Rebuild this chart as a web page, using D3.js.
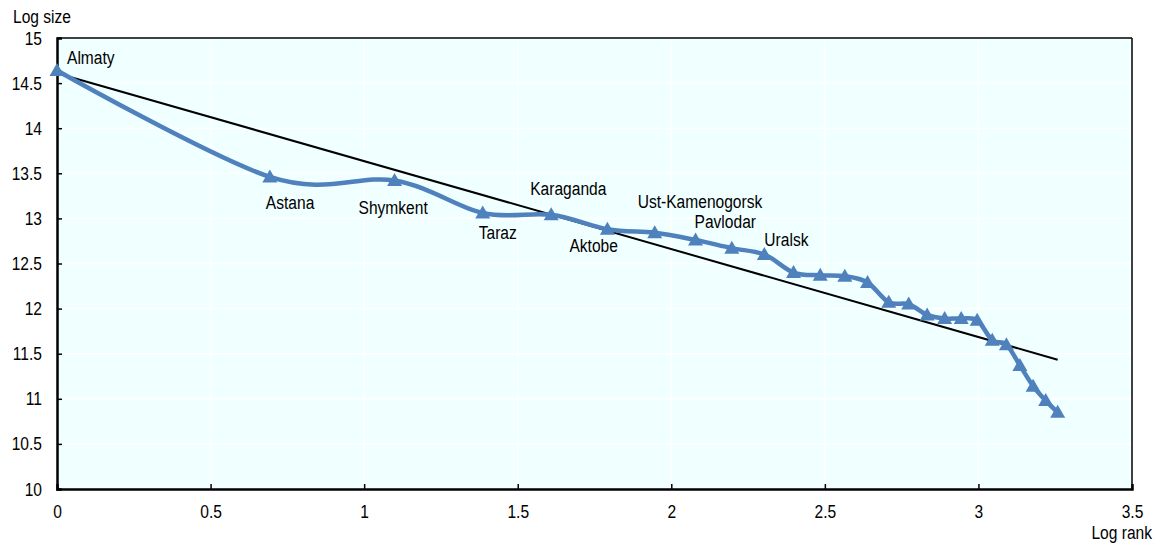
<!DOCTYPE html>
<html>
<head>
<meta charset="utf-8">
<script src="https://cdn.jsdelivr.net/npm/d3@7"></script>
<style>
  html, body { margin: 0; padding: 0; background: #ffffff; }
  svg { display: block; }
  text { font-family: "Liberation Sans Narrow", "Arial Narrow", "Liberation Sans", Arial, sans-serif; fill: #000; }
</style>
</head>
<body>
<svg id="chart" width="1157" height="547"></svg>
<script>
// City names (empty for unlabelled ranks)
const cities = ["Almaty", "Astana", "Shymkent", "Taraz", "Karaganda", "Aktobe",
  "Ust-Kamenogorsk", "Pavlodar", "", "Uralsk", "", "", "", "", "", "", "", "", "", "", "", "", "", "", "", ""];
// Log of city rank (ln 1 .. ln 26)
const logRank = [0, 0.693, 1.099, 1.386, 1.609, 1.792, 1.946, 2.079, 2.197, 2.303,
  2.398, 2.485, 2.565, 2.639, 2.708, 2.773, 2.833, 2.890, 2.944, 2.996,
  3.045, 3.091, 3.135, 3.178, 3.219, 3.258];
// Log of city population
const logSize = [14.64, 13.46, 13.42, 13.06, 13.04, 12.88, 12.84, 12.76, 12.67, 12.60,
  12.40, 12.37, 12.36, 12.29, 12.07, 12.05, 11.93, 11.89, 11.89, 11.87,
  11.65, 11.60, 11.37, 11.14, 10.98, 10.85];
// Fitted rank-size line: logSize = intercept + slope * logRank
const fitIntercept = 14.61;
const fitSlope = -0.975;
const xTicks = [0, 0.5, 1, 1.5, 2, 2.5, 3, 3.5];
const yTicks = [10, 10.5, 11, 11.5, 12, 12.5, 13, 13.5, 14, 14.5, 15];

const FS = 19;
// condensed lettering: regular sans squeezed horizontally
const SQ = 0.82;

const svg = d3.select("#chart");
const m = { left: 57, right: 1132, top: 38, bottom: 489 };

const x = d3.scaleLinear().domain([0, 3.5]).range([m.left, m.right]);
const y = d3.scaleLinear().domain([10, 15]).range([m.bottom, m.top]);

// draws a condensed text item at (px, py)
function label(parent, px, py, str, anchor) {
  return parent.append("text")
    .attr("transform", `translate(${px},${py}) scale(${SQ},1)`)
    .attr("font-size", FS)
    .attr("text-anchor", anchor || "start")
    .text(str);
}

// plot background
svg.append("rect")
  .attr("x", m.left).attr("y", m.top)
  .attr("width", m.right - m.left).attr("height", m.bottom - m.top)
  .attr("fill", "#f0ffff");

// white grid
svg.append("g").selectAll("line").data(yTicks.slice(1, -1)).join("line")
  .attr("x1", m.left).attr("x2", m.right)
  .attr("y1", d => y(d)).attr("y2", d => y(d))
  .attr("stroke", "#ffffff").attr("stroke-width", 1.5);
svg.append("g").selectAll("line").data(xTicks.slice(1, -1)).join("line")
  .attr("y1", m.top).attr("y2", m.bottom)
  .attr("x1", d => x(d)).attr("x2", d => x(d))
  .attr("stroke", "#ffffff").attr("stroke-width", 1.5);

// frame: thin top/right, heavier left/bottom
svg.append("line").attr("x1", m.left).attr("x2", m.right).attr("y1", m.top).attr("y2", m.top)
  .attr("stroke", "#000").attr("stroke-width", 1.5);
svg.append("line").attr("x1", m.right).attr("x2", m.right).attr("y1", m.top).attr("y2", m.bottom)
  .attr("stroke", "#000").attr("stroke-width", 1.5);

// axes with inward ticks
const yAxis = d3.axisLeft(y).tickValues(yTicks).tickSize(-5).tickPadding(15)
  .tickFormat(d => d3.format("")(d));
const xAxis = d3.axisBottom(x).tickValues(xTicks).tickSize(-5).tickPadding(16)
  .tickFormat(d => d3.format("")(d));

const gy = svg.append("g").attr("transform", `translate(${m.left},0)`).call(yAxis);
const gx = svg.append("g").attr("transform", `translate(0,${m.bottom})`).call(xAxis);
[gy, gx].forEach(g => {
  g.select(".domain").attr("stroke", "#000").attr("stroke-width", 2.5);
  g.selectAll(".tick line").attr("stroke", "#000").attr("stroke-width", 1.5);
  g.selectAll(".tick text").attr("font-size", FS)
    .attr("font-family", null).attr("fill", "#000")
    .attr("transform", `scale(${SQ},1)`);
});
gy.selectAll(".tick text").attr("x", -15 / SQ);
gy.selectAll(".tick").filter(d => d === 10 || d === 15).select("line").remove();
gx.selectAll(".tick").filter(d => d === 0 || d === 3.5).select("line").remove();

// axis titles
label(svg, 13, 23, "Log size");
label(svg, 1152, 539, "Log rank", "end");

// fitted line
const xr = d3.extent(logRank);
svg.append("line")
  .attr("x1", x(xr[0])).attr("y1", y(fitIntercept + fitSlope * xr[0]))
  .attr("x2", x(xr[1])).attr("y2", y(fitIntercept + fitSlope * xr[1]))
  .attr("stroke", "#000").attr("stroke-width", 2);

// observed rank-size curve
const pts = logRank.map((r, i) => ({ r, s: logSize[i], name: cities[i] }));
const blue = "#4f81bd";
svg.append("path").datum(pts)
  .attr("d", d3.line().x(d => x(d.r)).y(d => y(d.s)).curve(d3.curveCatmullRom.alpha(0)))
  .attr("fill", "none").attr("stroke", blue).attr("stroke-width", 4.5)
  .attr("stroke-linejoin", "round");

// triangle markers
svg.append("g").selectAll("path").data(pts).join("path")
  .attr("d", "M0,-7.5L7.5,5.5L-7.5,5.5Z")
  .attr("transform", d => `translate(${x(d.r)},${y(d.s)})`)
  .attr("fill", blue);

// city labels, offset from their markers
const labelOffset = {
  "Almaty": [10, -6.5], "Astana": [-4, 32], "Shymkent": [-36, 33.5], "Taraz": [-4, 26],
  "Karaganda": [-21, -20], "Aktobe": [-38, 23], "Ust-Kamenogorsk": [-17, -25],
  "Pavlodar": [-1, -12], "Uralsk": [0, -8.5]
};
const gl = svg.append("g");
pts.filter(d => d.name).forEach(d => {
  label(gl, x(d.r) + labelOffset[d.name][0], y(d.s) + labelOffset[d.name][1], d.name);
});
</script>
</body>
</html>
